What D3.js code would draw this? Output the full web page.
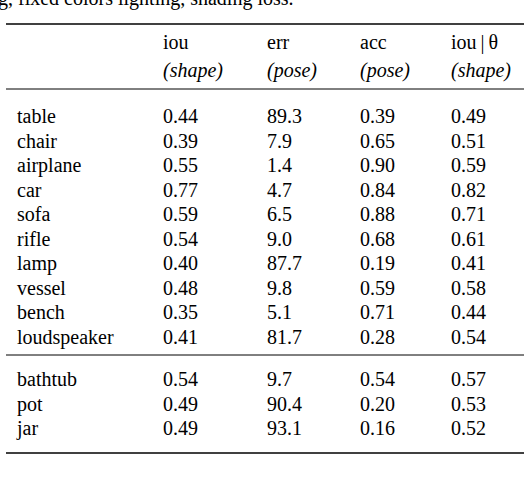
<!DOCTYPE html><html><head><meta charset="utf-8"><script src="https://d3js.org/d3.v7.min.js"></script>
<style>body{margin:0;background:#fff} svg text{font-family:"Liberation Serif","Times New Roman","DejaVu Serif",serif;font-size:20px}</style></head><body><script>
const categories=["table","chair","airplane","car","sofa","rifle","lamp","vessel","bench","loudspeaker","bathtub","pot","jar"];
const iouShape=[0.44,0.39,0.55,0.77,0.59,0.54,0.40,0.48,0.35,0.41,0.54,0.49,0.49];
const errPose=[89.3,7.9,1.4,4.7,6.5,9.0,87.7,9.8,5.1,81.7,9.7,90.4,93.1];
const accPose=[0.39,0.65,0.90,0.84,0.88,0.68,0.19,0.59,0.71,0.28,0.54,0.20,0.16];
const iouTheta=[0.49,0.51,0.59,0.82,0.71,0.61,0.41,0.58,0.44,0.54,0.57,0.53,0.52];
const headers1=["iou","err","acc","iou\u2009|\u2009θ"];
const headers2=["(shape)","(pose)","(pose)","(shape)"];
const W=524,H=484;
const svg=d3.select("body").append("svg").attr("width",W).attr("height",H);
svg.append("text").attr("x",-2).attr("y",5).text("g, fixed colors lighting, shading loss.");
const cx=[163,267,360,451];
const y=d3.scaleLinear().domain([0,9]).range([123,344]);
const yr=i=>i<10?y(i):y(i)+17.5;
const fmt2=d3.format(".2f"),fmt1=d3.format(".1f");
const rule=(yy,w)=>svg.append("line").attr("x1",6).attr("x2",524).attr("y1",yy).attr("y2",yy).attr("stroke","#000").attr("stroke-width",w);
rule(24,1.6);rule(89,1);rule(355,1);rule(453,1.6);
headers1.forEach((h,i)=>svg.append("text").attr("x",cx[i]).attr("y",49).text(h));
headers2.forEach((h,i)=>svg.append("text").attr("x",cx[i]).attr("y",77).style("font-style","italic").text(h));
const g=svg.selectAll("g.r").data(categories).join("g").attr("transform",(d,i)=>`translate(0,${yr(i)})`);
g.append("text").attr("x",17).text(d=>d);
g.append("text").attr("x",cx[0]).text((d,i)=>fmt2(iouShape[i]));
g.append("text").attr("x",cx[1]).text((d,i)=>fmt1(errPose[i]));
g.append("text").attr("x",cx[2]).text((d,i)=>fmt2(accPose[i]));
g.append("text").attr("x",cx[3]).text((d,i)=>fmt2(iouTheta[i]));
</script></body></html>
